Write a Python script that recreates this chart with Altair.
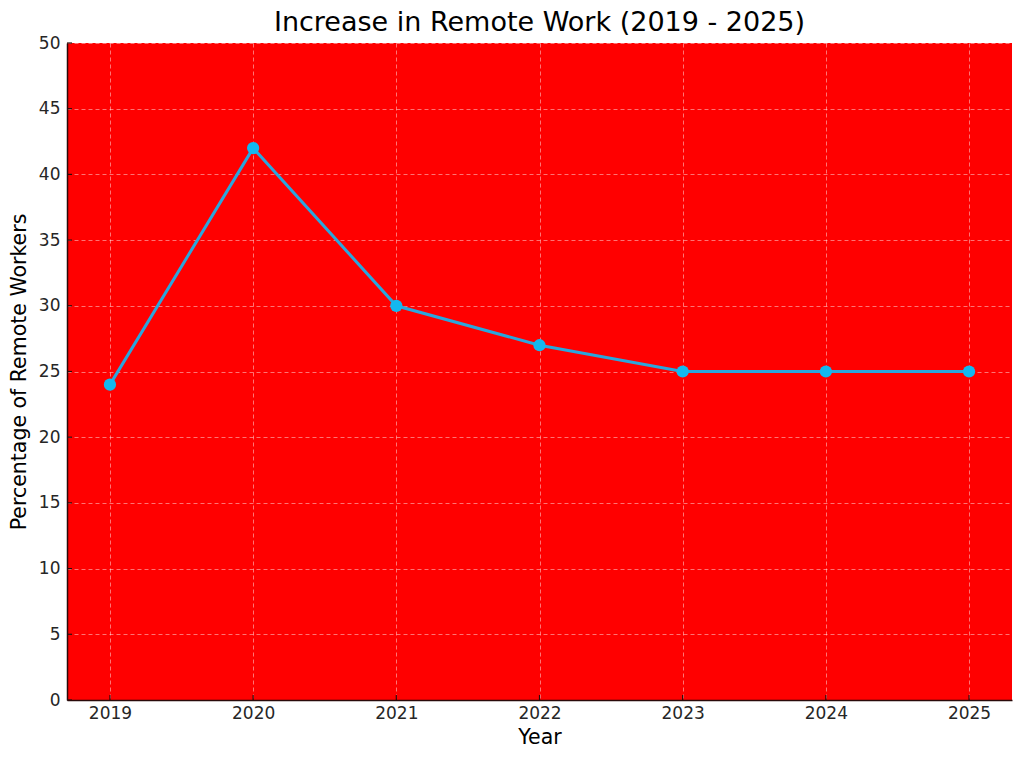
import altair as alt
import pandas as pd

years = [2019, 2020, 2021, 2022, 2023, 2024, 2025]
pct = [24, 42, 30, 27, 25, 25, 25]
y_ticks = [0, 5, 10, 15, 20, 25, 30, 35, 40, 45, 50]

df = pd.DataFrame({"Year": years, "Pct": pct})
df_yt = pd.DataFrame({"Pct": y_ticks})

FONT = "DejaVu Sans"
TICK = "#2a0a0a"

xscale = alt.Scale(domain=[2018.7, 2025.3], nice=False, zero=False)
yscale = alt.Scale(domain=[0, 50], nice=False)

x = alt.X("Year:Q", scale=xscale,
          axis=alt.Axis(values=years, format="d", title="Year", ticks=False,
                        labelPadding=5, titlePadding=6))
y = alt.Y("Pct:Q", scale=yscale,
          axis=alt.Axis(values=y_ticks, title="Percentage of Remote Workers", ticks=False,
                        labelPadding=7, titlePadding=9))

base = alt.Chart(df).encode(x=x, y=y)
line = base.mark_line(color="#2aa6dd", strokeWidth=3)
pts = base.mark_circle(color="#12b8f0", size=150, opacity=1)

# inward tick marks
xt = alt.Chart(df).mark_rule(color=TICK, strokeWidth=1.2).encode(
    x=alt.X("Year:Q", scale=xscale), y=alt.value(657), y2=alt.value(652))
yt = alt.Chart(df_yt).mark_rule(color=TICK, strokeWidth=1.2).encode(
    y=alt.Y("Pct:Q", scale=yscale), x=alt.value(0), x2=alt.value(5))

chart = (line + pts + xt + yt).properties(
    width=945, height=657,
    title=alt.TitleParams("Increase in Remote Work (2019 - 2025)", fontSize=27,
                          font=FONT, fontWeight="normal", color="#000",
                          offset=0, dy=3),
    autosize=alt.AutoSizeParams(type="none"),
    padding={"left": 59, "top": 35, "right": 4, "bottom": 54},
).configure_view(
    fill="#ff0000", stroke=None
).configure_axis(
    labelFont=FONT, titleFont=FONT, labelFontSize=17, titleFontSize=20.5,
    labelColor="#262626", titleColor="#000", titleFontWeight="normal",
    domainColor=TICK, domainWidth=1.5,
    gridColor="white", gridOpacity=0.45, gridDash=[4, 3], gridWidth=1,
)

chart.save("out.html", embed_options={"renderer": "svg", "actions": False})
